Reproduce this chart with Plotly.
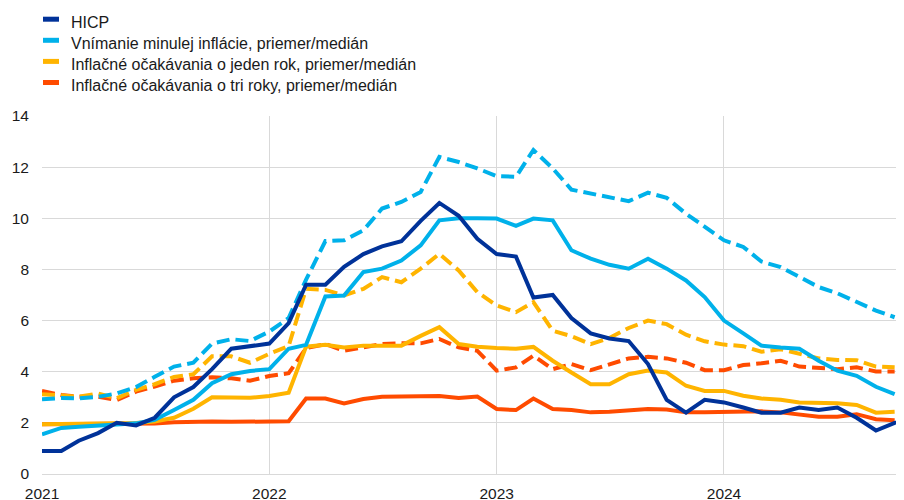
import pandas as pd
import plotly.graph_objects as go

# ---- data (monthly, Jan 2021 onwards) ----
months = pd.date_range("2021-01-01", periods=47, freq="MS")

hicp = [0.9, 0.9, 1.3, 1.6, 2.0, 1.9, 2.2, 3.0, 3.4, 4.1, 4.9, 5.0,
        5.1, 5.9, 7.4, 7.4, 8.1, 8.6, 8.9, 9.1, 9.9, 10.6, 10.1, 9.2,
        8.6, 8.5, 6.9, 7.0, 6.1, 5.5, 5.3, 5.2, 4.3, 2.9, 2.4, 2.9,
        2.8, 2.6, 2.4, 2.4, 2.6, 2.5, 2.6, 2.2, 1.7, 2.0, 2.2]

perceived_median = [1.55, 1.8, 1.85, 1.88, 1.94, 1.98, 2.12, 2.5, 2.9, 3.55, 3.9, 4.03,
                    4.1, 4.9, 5.05, 6.94, 6.98, 7.9, 8.03, 8.35, 8.94, 9.92, 10.0, 10.0,
                    9.99, 9.7, 9.99, 9.92, 8.75, 8.42, 8.18, 8.03, 8.42, 8.03, 7.57, 6.92,
                    6.0, 5.5, 5.02, 4.95, 4.9, 4.43, 4.04, 3.84, 3.41, 3.12]

perceived_mean = [2.92, 2.97, 2.96, 3.02, 3.15, 3.4, 3.8, 4.2, 4.35, 5.1, 5.27, 5.2,
                  5.57, 6.1, 7.6, 9.11, 9.14, 9.53, 10.38, 10.64, 11.03, 12.4, 12.2, 11.95,
                  11.65, 11.62, 12.67, 11.95, 11.12, 10.97, 10.84, 10.67, 11.0, 10.8, 10.18, 9.66,
                  9.14, 8.88, 8.31, 8.09, 7.7, 7.31, 7.07, 6.72, 6.39, 6.13]

exp1y_median = [1.95, 1.95, 1.96, 1.97, 1.98, 1.99, 2.05, 2.2, 2.55, 3.0, 3.0, 2.98,
                3.05, 3.18, 4.98, 5.05, 4.95, 5.02, 5.02, 5.02, 5.4, 5.74, 5.08, 4.98,
                4.93, 4.9, 4.97, 4.43, 3.97, 3.51, 3.51, 3.9, 4.05, 3.97, 3.45, 3.25,
                3.25, 3.06, 2.95, 2.9, 2.8, 2.8, 2.77, 2.7, 2.4, 2.43]

exp1y_mean = [3.12, 3.05, 3.02, 3.15, 2.96, 3.29, 3.51, 3.8, 3.9, 4.6, 4.6, 4.35,
              4.7, 5.0, 7.24, 7.2, 6.98, 7.24, 7.7, 7.5, 8.03, 8.61, 7.96, 7.11,
              6.59, 6.33, 6.72, 5.6, 5.39, 5.08, 5.32, 5.71, 6.0, 5.86, 5.45, 5.19,
              5.06, 5.0, 4.78, 4.88, 4.69, 4.52, 4.46, 4.45, 4.2, 4.17]

exp3y_median = [1.95, 1.95, 1.95, 1.95, 1.95, 1.95, 1.97, 2.02, 2.04, 2.05, 2.04, 2.04,
                2.04, 2.06, 2.95, 2.95, 2.76, 2.93, 3.02, 3.02, 3.02, 3.05, 2.97, 3.03,
                2.54, 2.5, 2.95, 2.54, 2.5, 2.41, 2.43, 2.5, 2.54, 2.52, 2.41, 2.41,
                2.43, 2.47, 2.45, 2.41, 2.34, 2.24, 2.24, 2.34, 2.14, 2.1]

exp3y_mean = [3.25, 3.09, 3.02, 3.02, 2.89, 3.22, 3.42, 3.65, 3.74, 3.78, 3.74, 3.65,
              3.83, 3.94, 4.92, 5.08, 4.82, 4.95, 5.08, 5.11, 5.11, 5.28, 4.95, 4.82,
              4.04, 4.17, 4.63, 4.1, 4.3, 4.06, 4.3, 4.52, 4.58, 4.52, 4.35, 4.06,
              4.06, 4.26, 4.33, 4.43, 4.2, 4.13, 4.1, 4.17, 4.01, 4.01]

legend_labels = ["HICP",
                 "Vnímanie minulej inflácie, priemer/medián",
                 "Inflačné očakávania o jeden rok, priemer/medián",
                 "Inflačné očakávania o tri roky, priemer/medián"]
year_ticks = ["2021-01-01", "2022-01-01", "2023-01-01", "2024-01-01"]
year_labels = ["2021", "2022", "2023", "2024"]
y_ticks = [0, 2, 4, 6, 8, 10, 12, 14]

# ---- styling ----
C_HICP = "#003299"
C_PERC = "#00B1EA"
C_E1 = "#FFB400"
C_E3 = "#FF4B00"
DASH = "13px,6px"
LW = 4
FONT = "Liberation Sans, Arial, sans-serif"
FS_TICK = 15.5
FS_LEG = 16
TXT = "#1a1a1a"

# page has an 8px body margin -> compensate
OFF = 8
FIG_W, FIG_H = 904 - OFF, 500 - OFF
L, T, PW, PH = 42 - OFF, 116 - OFF, 861, 358

fig = go.Figure()

def add(x, y, color, dash=None):
    fig.add_trace(go.Scatter(
        x=x, y=y, mode="lines", showlegend=False, hoverinfo="skip",
        line=dict(color=color, width=LW, dash=dash or "solid")))

m46 = months[:46]
add(m46, exp3y_mean, C_E3, DASH)
add(m46, exp3y_median, C_E3)
add(m46, exp1y_mean, C_E1, DASH)
add(m46, exp1y_median, C_E1)
add(m46, perceived_mean, C_PERC, DASH)
add(m46, perceived_median, C_PERC)
add(months, hicp, C_HICP)

# ---- manual legend (short bars + text), positions given in page pixels ----
def px_x(px):
    return (px - OFF - L) / PW
def px_y(py):
    return (T + PH - (py - OFF)) / PH

colors = [C_HICP, C_PERC, C_E1, C_E3]
for i, (lab, col) in enumerate(zip(legend_labels, colors)):
    top = 16.7 + 21.1 * i
    fig.add_shape(type="rect", xref="paper", yref="paper",
                  x0=px_x(43), x1=px_x(59), y0=px_y(top), y1=px_y(top + 5),
                  fillcolor=col, line=dict(width=0))
    fig.add_annotation(xref="paper", yref="paper", x=px_x(69), y=px_y(top + 6),
                       text=lab, showarrow=False, xanchor="left", yanchor="middle",
                       font=dict(family=FONT, size=FS_LEG, color=TXT))

fig.update_layout(
    width=FIG_W, height=FIG_H,
    margin=dict(l=L, r=FIG_W - L - PW, t=T, b=FIG_H - T - PH, pad=0, autoexpand=False),
    paper_bgcolor="white", plot_bgcolor="white",
    font=dict(family=FONT, size=FS_TICK, color=TXT),
    showlegend=False,
)
fig.update_xaxes(
    type="date", range=["2021-01-01", "2024-10-14 10:00"],
    tickvals=year_ticks, ticktext=year_labels,
    showgrid=True, gridcolor="#d9d9d9", gridwidth=1,
    showline=True, linecolor="#d9d9d9", linewidth=1,
    ticks="", ticklabelstandoff=5, zeroline=False, automargin=False,
    tickfont=dict(family=FONT, size=FS_TICK, color=TXT),
)
fig.update_yaxes(
    range=[0, 14], tickvals=y_ticks,
    showgrid=True, gridcolor="#d9d9d9", gridwidth=1,
    showline=False, zeroline=False, ticks="", automargin=False,
    ticklabelstandoff=12,
    tickfont=dict(family=FONT, size=FS_TICK, color=TXT),
)

fig.write_html("out.html")
